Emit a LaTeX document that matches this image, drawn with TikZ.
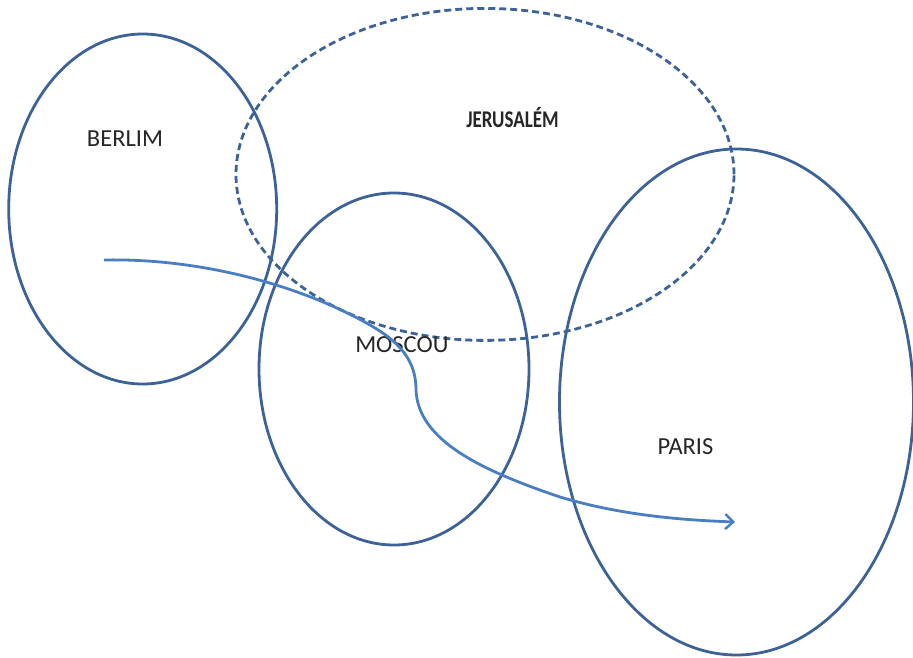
\documentclass[tikz,border=0pt]{standalone}
\usepackage{fontspec}
\setmainfont{Carlito}
\usetikzlibrary{shapes.geometric,arrows.meta}
\definecolor{ringblue}{HTML}{3D6298}
\definecolor{arrowblue}{HTML}{4A7EC4}
\tikzset{
  ring/.style={draw=ringblue, line width=2.8pt, ellipse, inner sep=0pt},
  dashring/.style={ring, dash pattern=on 7pt off 4pt},
  city/.style={font=\fontsize{24.5}{28}\selectfont, text=black!85, inner sep=0pt},
  flow/.style={draw=arrowblue, line width=2.8pt, -{Straight Barb[length=8pt,width=15pt,line width=2.4pt]}}
}
\begin{document}
\begin{tikzpicture}[x=1pt,y=-1pt]
\useasboundingbox (0,0) rectangle (913,658);
\node[ring, minimum width=268pt, minimum height=350pt] (berlim) at (142.7,209) {};
\node[dashring, minimum width=498pt, minimum height=332pt] (jerusalem) at (485,174.4) {};
\node[ring, minimum width=270pt, minimum height=352pt] (moscou) at (394,369) {};
\node[ring, minimum width=354pt, minimum height=506pt] (paris) at (736.5,402) {};
\node[city] (tberlim) at (125,138.7) {BERLIM};
\node[city, font=\fontsize{24}{28}\selectfont\bfseries, xscale=0.79] (tjerusalem) at (512.5,117.6) {JERUSALÉM};
\node[city] (tmoscou) at (401.9,344.5) {MOSCOU};
\node[city] (tparis) at (685.5,446.6) {PARIS};
\coordinate (start) at (104,260);
\coordinate (m1) at (370,325);
\coordinate (m2) at (416,390);
\coordinate (m3) at (560,497);
\coordinate (finish) at (735,522);
\draw[flow] (start) .. controls (200,258) and (300,285) .. (m1)
  .. controls (405,345) and (416,365) .. (m2)
  .. controls (418,440) and (480,470) .. (m3)
  .. controls (620,515) and (680,520) .. (finish);
\end{tikzpicture}
\end{document}
